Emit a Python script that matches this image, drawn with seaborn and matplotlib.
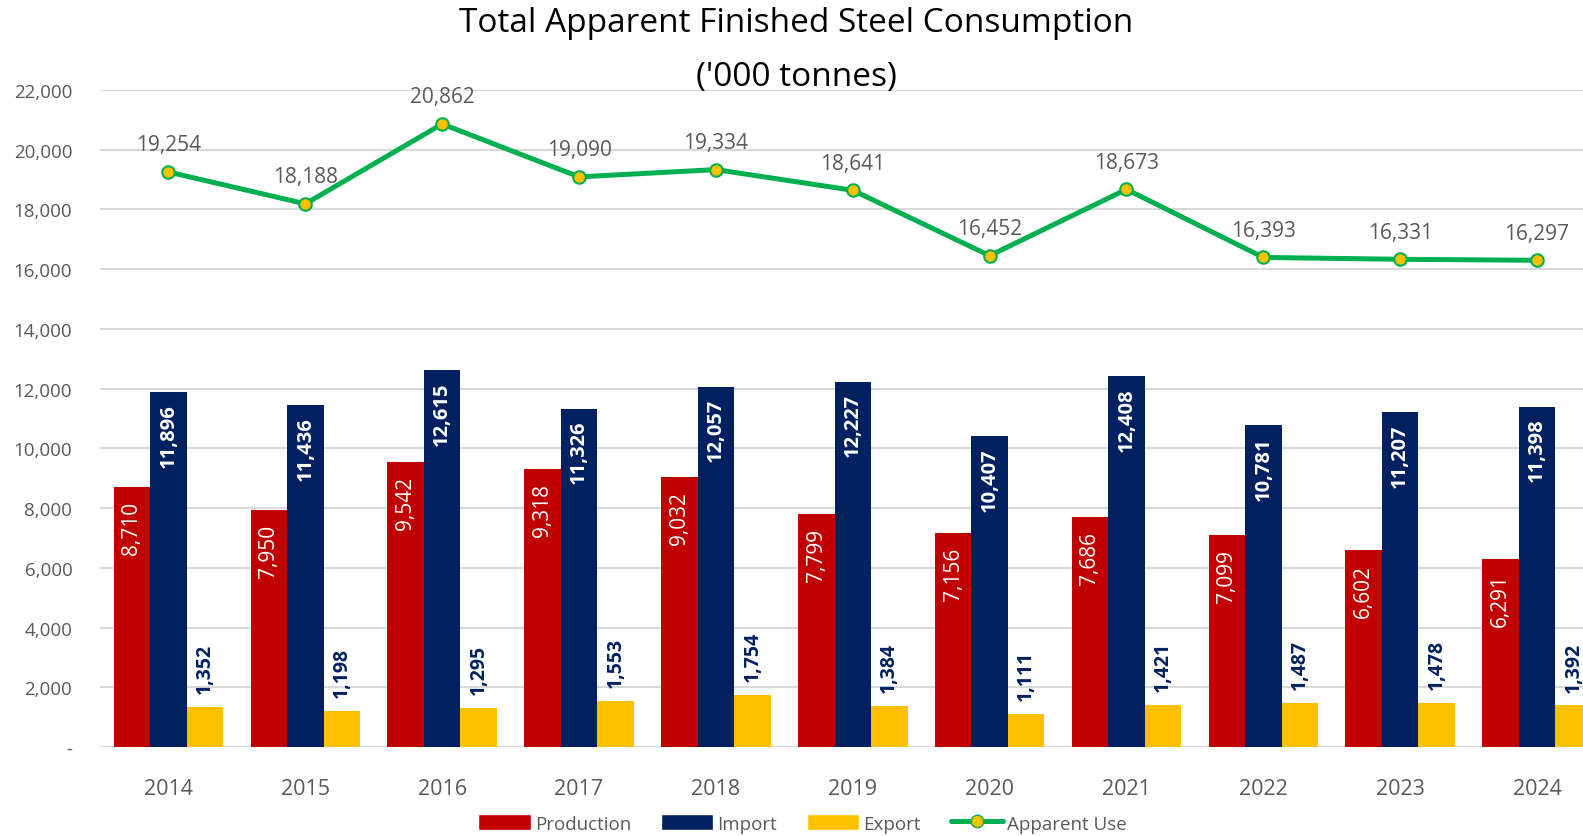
import numpy as np
import pandas as pd
import matplotlib
matplotlib.use("Agg")
import matplotlib.pyplot as plt
import seaborn as sns
from matplotlib.patches import Patch
from matplotlib.lines import Line2D

# data ('000 tonnes)
years = ["2014", "2015", "2016", "2017", "2018", "2019", "2020", "2021", "2022", "2023", "2024"]
production = [8710, 7950, 9542, 9318, 9032, 7799, 7156, 7686, 7099, 6602, 6291]
imports = [11896, 11436, 12615, 11326, 12057, 12227, 10407, 12408, 10781, 11207, 11398]
exports = [1352, 1198, 1295, 1553, 1754, 1384, 1111, 1421, 1487, 1478, 1392]
apparent_use = [19254, 18188, 20862, 19090, 19334, 18641, 16452, 18673, 16393, 16331, 16297]

series_names = ["Production", "Import", "Export"]
colors = {"Production": "#C00000", "Import": "#002060", "Export": "#FFC000"}
green = "#00B050"
gray = "#595959"

sns.set_theme(style="white")
plt.rcParams["font.family"] = ["Open Sans", "DejaVu Sans"]

df = pd.DataFrame({
    "year": years * 3,
    "series": [s for s in series_names for _ in years],
    "value": production + imports + exports,
})

fig = plt.figure(figsize=(15.83, 8.37), dpi=100)
# plot area runs past the right edge, like the cropped original
ax = fig.add_axes([0.0632, 0.1063, 0.951, 0.785])

sns.barplot(data=df, x="year", y="value", hue="series", hue_order=series_names,
            palette=colors, width=0.8, linewidth=0, saturation=1, ax=ax,
            legend=False, errorbar=None)

sns.lineplot(x=np.arange(len(years)), y=apparent_use, color=green, linewidth=3.6,
             marker="o", markersize=9, markerfacecolor="#FFC000",
             markeredgecolor=green, markeredgewidth=1.5, ax=ax, zorder=5)

# bar labels
for cont, name in zip(ax.containers, series_names):
    for patch in cont:
        h = patch.get_height()
        xc = patch.get_x() + patch.get_width() / 2
        txt = f"{h:,.0f}"
        if name == "Production":
            ax.annotate(txt, (xc, h), xytext=(0, -10), textcoords="offset points",
                        rotation=90, ha="center", va="top", color="white", fontsize=15)
        elif name == "Import":
            ax.annotate(txt, (xc, h), xytext=(0, -8), textcoords="offset points",
                        rotation=90, ha="center", va="top", color="white",
                        fontsize=14.5, fontweight="bold")
        else:
            ax.annotate(txt, (xc, h), xytext=(0, 10), textcoords="offset points",
                        rotation=90, ha="center", va="bottom", color="#002060",
                        fontsize=14, fontweight="bold")

for i, v in enumerate(apparent_use):
    ax.annotate(f"{v:,}", (i, v), xytext=(0, 12), textcoords="offset points",
                ha="center", va="bottom", color=gray, fontsize=15)

ax.set_xlim(-0.5, len(years) - 0.5)
ax.set_ylim(0, 22000)
yt = np.arange(0, 22001, 2000)
ax.set_yticks(yt)
ax.set_yticklabels(["-" if t == 0 else f"{t:,}" for t in yt])
ax.grid(axis="y", color="#D9D9D9", linewidth=1.5)
ax.set_axisbelow(True)
for s in ax.spines.values():
    s.set_visible(False)
ax.axhline(0, color="#D9D9D9", linewidth=1.5, zorder=0)
ax.tick_params(axis="y", labelsize=13.5, labelcolor=gray, length=0, pad=20)
ax.tick_params(axis="x", labelsize=15.5, labelcolor=gray, length=0, pad=22)
ax.set_xlabel("")
ax.set_ylabel("")

fig.text(0.503, 0.972, "Total Apparent Finished Steel Consumption", ha="center",
         va="center", fontsize=24, color="black")
fig.text(0.503, 0.908, "('000 tonnes)", ha="center", va="center", fontsize=24,
         color="black")

handles = [Patch(facecolor=colors[n]) for n in series_names]
handles.append(Line2D([0], [0], color=green, linewidth=3.6, marker="o", markersize=9,
                      markerfacecolor="#FFC000", markeredgecolor=green))
fig.legend(handles, series_names + ["Apparent Use"], loc="center",
           bbox_to_anchor=(0.507, 0.015), ncol=4, frameon=False, fontsize=13.5,
           handlelength=2.8, handleheight=0.9, handletextpad=0.2, columnspacing=1.6,
           labelcolor=gray)

fig.savefig("out.png", dpi=100)
